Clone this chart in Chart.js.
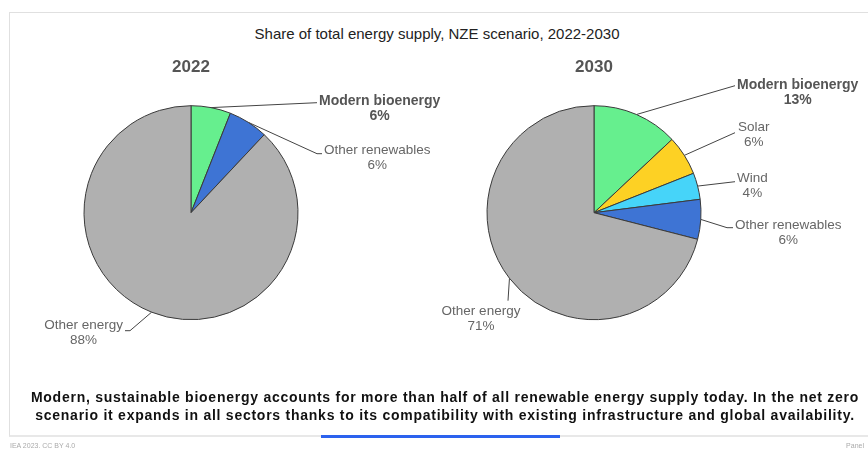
<!DOCTYPE html>
<html>
<head>
<meta charset="utf-8">
<script src="https://cdn.jsdelivr.net/npm/chart.js@4/dist/chart.umd.min.js"></script>
<style>
  html, body { margin: 0; padding: 0; background: #fff; }
  body { width: 868px; height: 451px; position: relative; overflow: hidden; font-family: "Liberation Sans", Arial, sans-serif; }
  #frame { position: absolute; left: 9px; top: 12px; width: 900px; height: 422px; border: 1px solid #e0e0e0; border-bottom: 2px solid #e8e8e8; box-sizing: content-box; }
  #title { position: absolute; left: 0; width: 874px; top: 25px; text-align: center; font-size: 15px; color: #222; white-space: nowrap; }
  #footer { position: absolute; left: 0; width: 890px; top: 388px; text-align: center; font-size: 14px; font-weight: bold; color: #111; line-height: 18px; white-space: nowrap; letter-spacing: 0.75px; }
  #blue { position: absolute; left: 321px; top: 435px; width: 239px; height: 3px; background: #2c62ee; }
  #src { position: absolute; left: 10px; top: 442px; font-size: 7px; color: #aaa; }
  #pnl { position: absolute; right: 4px; top: 442px; font-size: 7px; color: #aaa; }
  .wrap { position: absolute; top: 0; height: 451px; }
</style>
</head>
<body>
<div id="frame"></div>
<div id="title">Share of total energy supply, NZE scenario, 2022-2030</div>
<div class="wrap" style="left:0;width:470px;"><canvas id="c1"></canvas></div>
<div class="wrap" style="left:430px;width:438px;"><canvas id="c2"></canvas></div>
<div id="footer">Modern, sustainable bioenergy accounts for more than half of all renewable energy supply today. In the net zero<br>scenario it expands in all sectors thanks to its compatibility with existing infrastructure and global availability.</div>
<div id="blue"></div>
<div id="src">IEA 2023. CC BY 4.0</div>
<div id="pnl">Panel</div>
<script>
// ---- data ----
const years = ['2022', '2030'];
const categories2022 = ['Modern bioenergy', 'Other renewables', 'Other energy'];
const values2022 = [6, 6, 88];
const categories2030 = ['Modern bioenergy', 'Solar', 'Wind', 'Other renewables', 'Other energy'];
const values2030 = [13, 6, 4, 6, 71];

// ---- styles ----
const colorMap = {
  'Modern bioenergy': '#66EF8E',
  'Other renewables': '#3E74D4',
  'Solar': '#FDD124',
  'Wind': '#46D4F9',
  'Other energy': '#B0B0B0'
};
// label placement relative to pie centre (layout only)
const layout2022 = [
  { elbow: [126, -110], tail: 0, text: [128, -112], align: 'left' },
  { elbow: [126, -59], tail: 5, text: [133, -62], align: 'left' },
  { elbow: [-61, 118], tail: -5, text: [-68, 113], align: 'right' }
];
const layout2030 = [
  { elbow: [141, -127], tail: 0, text: [143, -128], align: 'left' },
  { elbow: [141, -80], tail: 0, text: [144, -85], align: 'left' },
  { elbow: [141, -31], tail: 0, text: [143, -34], align: 'left' },
  { elbow: [133, 15], tail: 6, text: [141, 13], align: 'left' },
  { elbow: [-86, 88], tail: 0, text: [-113, 99], align: 'center' }
];

const leaderPlugin = {
  id: 'leaders',
  afterDatasetsDraw(chart, args, opts) {
    const ctx = chart.ctx;
    const meta = chart.getDatasetMeta(0);
    const labels = chart.data.labels;
    const data = chart.data.datasets[0].data;
    ctx.save();
    meta.data.forEach((arc, i) => {
      const L = opts.layout[i];
      const p = arc.getProps(['x', 'y', 'startAngle', 'endAngle', 'outerRadius'], true);
      const mid = (p.startAngle + p.endAngle) / 2;
      const ax = p.x + Math.cos(mid) * p.outerRadius;
      const ay = p.y + Math.sin(mid) * p.outerRadius;
      const ex = p.x + L.elbow[0], ey = p.y + L.elbow[1];
      ctx.beginPath();
      ctx.strokeStyle = '#444';
      ctx.lineWidth = 1;
      ctx.moveTo(ax, ay);
      ctx.lineTo(ex, ey);
      if (L.tail) ctx.lineTo(ex + L.tail, ey);
      ctx.stroke();

      const bold = labels[i] === 'Modern bioenergy';
      ctx.font = bold ? 'bold 14px "Liberation Sans", Arial, sans-serif' : '13.5px "Liberation Sans", Arial, sans-serif';
      ctx.fillStyle = bold ? '#555' : '#666';
      const l1 = labels[i];
      const l2 = Math.round(data[i]) + '%';
      const w = Math.max(ctx.measureText(l1).width, ctx.measureText(l2).width);
      let left;
      if (L.align === 'left') left = p.x + L.text[0];
      else if (L.align === 'right') left = p.x + L.text[0] - w;
      else left = p.x + L.text[0] - w / 2;
      const cx = left + w / 2;
      ctx.textAlign = 'center';
      ctx.textBaseline = 'middle';
      ctx.fillText(l1, cx, p.y + L.text[1]);
      ctx.fillText(l2, cx, p.y + L.text[1] + 15);
    });
    ctx.restore();
  }
};

function makePie(id, year, cats, vals, lay, padL, padR) {
  return new Chart(document.getElementById(id), {
    type: 'pie',
    data: {
      labels: cats,
      datasets: [{
        data: vals,
        backgroundColor: cats.map(c => colorMap[c]),
        borderColor: '#3a3a3a',
        borderWidth: 1,
        radius: 107
      }]
    },
    options: {
      responsive: true,
      maintainAspectRatio: false,
      animation: false,
      events: [],
      layout: { padding: { top: 57, bottom: 103, left: padL, right: padR } },
      plugins: {
        legend: { display: false },
        tooltip: { enabled: false },
        title: {
          display: true,
          text: year,
          color: '#555',
          font: { family: '"Liberation Sans", Arial, sans-serif', size: 17, weight: 'bold', lineHeight: 1.2 },
          padding: { top: 0, bottom: 0 }
        },
        leaders: { layout: lay }
      }
    },
    plugins: [leaderPlugin]
  });
}

makePie('c1', years[0], categories2022, values2022, layout2022, 0, 88);
makePie('c2', years[1], categories2030, values2030, layout2030, 0, 110);
</script>
</body>
</html>
